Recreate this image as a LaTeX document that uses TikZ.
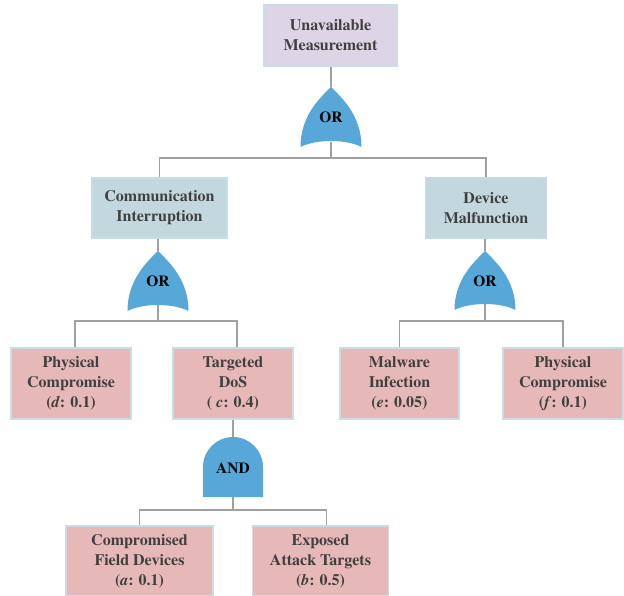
\documentclass[tikz,border=0pt]{standalone}
\usepackage[T1]{fontenc}
\usepackage{times}
\begin{document}
\definecolor{evtlav}{HTML}{DDD5E6}
\definecolor{evtblue}{HTML}{C3D8DE}
\definecolor{evtpink}{HTML}{E6B8B7}
\definecolor{evtedge}{HTML}{C9DDE4}
\definecolor{gateblue}{HTML}{57A7D9}
\definecolor{wire}{HTML}{A0A0A0}
\definecolor{txt}{HTML}{3F3F3F}
\begin{tikzpicture}[x=1pt,y=-1pt,
  evt/.style={draw=evtedge,line width=1.2pt,align=center,inner sep=0pt,
    font=\fontsize{16}{20}\selectfont\bfseries,text=txt},
  top/.style={evt,fill=evtlav},
  mid/.style={evt,fill=evtblue},
  leaf/.style={evt,fill=evtpink},
  gatefill/.style={fill=gateblue,draw=none},
  gatelbl/.style={font=\fontsize{15.5}{18}\selectfont\bfseries,text=black,inner sep=0pt},
  link/.style={draw=wire,line width=1.8pt}]
\useasboundingbox (0,0) rectangle (624,596);

% OR gate: pointed top at (#1,#2), base at height #3
\newcommand{\orgate}[3]{%
  \path[gatefill] (#1,#2)
    .. controls ++(10,10) and (#1+30.5,#2+28) .. (#1+30.5,#3)
    .. controls (#1+15,#3-8) and (#1-15,#3-8) .. (#1-30.5,#3)
    .. controls (#1-30.5,#2+28) and (#1-10,#2+10) .. (#1,#2) -- cycle;}
% AND gate: centre #1, top #2, bottom #3
\newcommand{\andgate}[3]{%
  \path[gatefill] (#1-30,#3) -- (#1-30,#2+30) arc[start angle=180,end angle=0,x radius=30,y radius=-30] -- (#1+30,#3) -- cycle;}

% events
\node[top,minimum width=133pt,minimum height=61pt] (um) at (330.5,35.5) {Unavailable\\Measurement};
\node[mid,minimum width=135pt,minimum height=60pt] (ci) at (159.5,208) {Communication\\Interruption};
\node[mid,minimum width=121pt,minimum height=61pt] (dm) at (486,208) {Device\\Malfunction};
\node[leaf,minimum width=120pt,minimum height=71pt] (pc1) at (71,383.5) {Physical\\Compromise\\(\textit{d}: 0.1)};
\node[leaf,minimum width=120pt,minimum height=71pt] (td) at (233,383.5) {Targeted\\DoS\\( \textit{c}: 0.4)};
\node[leaf,minimum width=119pt,minimum height=71pt] (mi) at (399.5,383.5) {Malware\\Infection\\(\textit{e}: 0.05)};
\node[leaf,minimum width=120pt,minimum height=71pt] (pc2) at (563,383.5) {Physical\\Compromise\\(\textit{f}: 0.1)};
\node[leaf,minimum width=147pt,minimum height=70pt] (cfd) at (139.5,561) {Compromised\\Field Devices\\(\textit{a}: 0.1)};
\node[leaf,minimum width=136pt,minimum height=70pt] (eat) at (320.5,561) {Exposed\\Attack Targets\\(\textit{b}: 0.5)};

% gate bodies
\orgate{331}{87}{147}
\orgate{158}{251}{311}
\orgate{485}{251}{310}
\andgate{233}{437}{497}

% gate terminals
\coordinate (g1in) at (331,87);  \coordinate (g1out) at (331,142);
\coordinate (g2in) at (158,251); \coordinate (g2out) at (158,305);
\coordinate (g3in) at (485,251); \coordinate (g3out) at (485,304);
\coordinate (g4in) at (233,437); \coordinate (g4out) at (233,497);

% gate labels
\node[gatelbl] (g1) at (331,117) {OR};
\node[gatelbl] (g2) at (158,281) {OR};
\node[gatelbl] (g3) at (485,281) {OR};
\node[gatelbl] (g4) at (233,468) {AND};

% connectors
\path[link] (g1in |- um.south) -- (g1in);
\path[link] (g1out) -- (331,158) -| (ci.north);
\path[link] (g1out) -- (331,158) -| (dm.north);
\path[link] (g2in |- ci.south) -- (g2in);
\path[link] (g2out) -- (158,321) -| ([xshift=4pt]pc1.north);
\path[link] (g2out) -- (158,321) -| ([xshift=4pt]td.north);
\path[link] (g3in |- dm.south) -- (g3in);
\path[link] (g3out) -- (485,321) -| (mi.north);
\path[link] (g3out) -- (485,321) -| (pc2.north);
\path[link] (g4in |- td.south) -- (g4in);
\path[link] (g4out) -- (233,510) -| (cfd.north);
\path[link] (g4out) -- (233,510) -| ([xshift=6pt]eat.north);
\end{tikzpicture}
\end{document}
